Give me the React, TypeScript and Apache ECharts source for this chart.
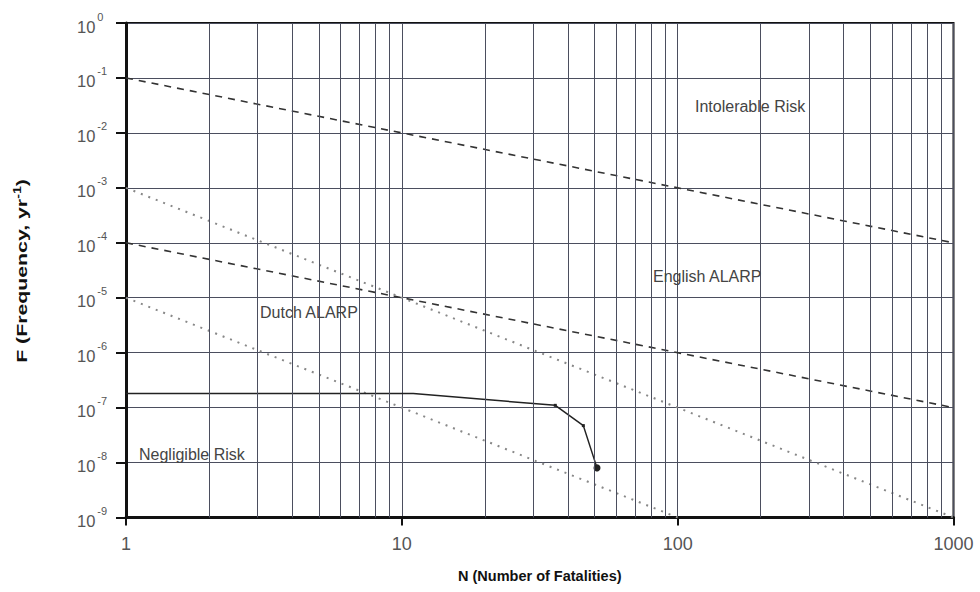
import React, { useEffect, useRef } from "react";
import * as echarts from "echarts";

// ---- data ----
const nEnds = [1, 1000];
const intolerableLimit = [1e-1, 1e-4]; // English upper (dashed)
const englishLower = [1e-4, 1e-7]; // English lower (dashed)
const dutchUpper = [1e-3, 1e-9]; // Dutch upper (dotted)
const dutchLowerN = [1, 100];
const dutchLower = [1e-5, 1e-9]; // Dutch lower (dotted)
const fnN = [1, 11, 36, 45.5, 51];
const fnF = [1.8e-7, 1.8e-7, 1.1e-7, 4.7e-8, 8e-9];
const minorN = [2, 3, 4, 5, 6, 7, 8, 9, 20, 30, 40, 50, 60, 70, 80, 90, 200, 300, 400, 500, 600, 700, 800, 900];
const xTickLabels = ["1", "10", "100", "1000"];
const annotations = [
  { text: "Intolerable Risk", x: 695, y: 106 },
  { text: "English ALARP", x: 653, y: 276 },
  { text: "Dutch ALARP", x: 260, y: 312 },
  { text: "Negligible Risk", x: 139, y: 454 },
];

const FONT = "'Liberation Sans', Arial, sans-serif";
const GRID = "#4b4e5e";

const zip = (xs: number[], ys: number[]) => xs.map((x, i) => [x, ys[i]]);

export default function App() {
  const ref = useRef<HTMLDivElement>(null);
  useEffect(() => {
    if (!ref.current) return;
    const chart = echarts.init(ref.current, null, { renderer: "svg" });
    chart.setOption({
      animation: false,
      backgroundColor: "#ffffff",
      textStyle: { fontFamily: FONT },
      grid: {
        left: 126,
        top: 23,
        right: 26.5,
        bottom: 74.5,
        show: true,
        borderColor: "#111",
        borderWidth: 2,
        backgroundColor: "transparent",
      },
      xAxis: {
        type: "log",
        logBase: 10,
        min: 1,
        max: 1000,
        name: "N (Number of Fatalities)",
        nameLocation: "middle",
        nameGap: 51,
        nameTextStyle: { fontFamily: FONT, fontSize: 14.5, fontWeight: "bold", color: "#111" },
        axisLine: { show: true, lineStyle: { color: "#111", width: 3 } },
        axisTick: { show: true, length: 8, lineStyle: { color: "#111", width: 2 } },
        axisLabel: {
          margin: 17,
          fontSize: 18,
          color: "#555",
          fontFamily: FONT,
          formatter: (v: number) => {
            const e = Math.round(Math.log10(v));
            return xTickLabels[e] ?? String(Math.round(v));
          },
        },
        splitLine: { show: true, lineStyle: { color: GRID, width: 1 } },
      },
      yAxis: {
        type: "log",
        logBase: 10,
        min: 1e-9,
        max: 1,
        axisLine: { show: true, lineStyle: { color: "#111", width: 3 } },
        axisTick: { show: true, length: 10, lineStyle: { color: "#111", width: 2 } },
        axisLabel: {
          margin: 49,
          align: "left",
          formatter: (v: number) => `{b|10}{s|${Math.round(Math.log10(v))}}`,
          rich: {
            b: { fontSize: 16.5, color: "#555", fontFamily: FONT, lineHeight: 24, verticalAlign: "bottom" },
            s: { fontSize: 11, color: "#555", fontFamily: FONT, verticalAlign: "top", lineHeight: 11, padding: [0, 0, 0, 2] },
          },
        },
        splitLine: { show: true, lineStyle: { color: GRID, width: 1 } },
      },
      graphic: [
        {
          type: "text",
          x: 22,
          y: 271,
          rotation: Math.PI / 2,
          scaleX: 1.42,
          z: 100,
          style: {
            text: "{a|F (Frequency, yr}{s|-1}{a|)}",
            align: "center",
            verticalAlign: "middle",
            rich: {
              a: { fontSize: 15, fontWeight: "bold", fontFamily: FONT, fill: "#111", lineHeight: 18 },
              s: { fontSize: 10, fontWeight: "bold", fontFamily: FONT, fill: "#111", verticalAlign: "top", lineHeight: 10 },
            },
          },
        },
        ...annotations.map((a) => ({
          type: "text",
          x: a.x,
          y: a.y,
          z: 100,
          style: {
            text: a.text,
            fontFamily: FONT,
            fontSize: 16,
            fill: "#444",
            align: "left",
            verticalAlign: "middle",
          },
        })),
      ],
      series: [
        {
          type: "line",
          name: "grid",
          z: 1,
          data: [[1, 1e-9]],
          symbol: "none",
          lineStyle: { opacity: 0 },
          silent: true,
          markLine: {
            silent: true,
            symbol: ["none", "none"],
            label: { show: false },
            lineStyle: { color: GRID, width: 1, type: "solid" },
            emphasis: { disabled: true },
            data: minorN.map((v) => ({ xAxis: v })),
          },
        },
        {
          type: "line",
          name: "Intolerable limit",
          z: 3,
          data: zip(nEnds, intolerableLimit),
          symbol: "none",
          lineStyle: { color: "#333", width: 1.6, type: [7, 6] },
        },
        {
          type: "line",
          name: "English lower",
          z: 3,
          data: zip(nEnds, englishLower),
          symbol: "none",
          lineStyle: { color: "#333", width: 1.6, type: [7, 6] },
        },
        {
          type: "line",
          name: "Dutch upper",
          z: 3,
          data: zip(nEnds, dutchUpper),
          symbol: "none",
          lineStyle: { color: "#888", width: 2, type: [2, 6] },
        },
        {
          type: "line",
          name: "Dutch lower",
          z: 3,
          data: zip(dutchLowerN, dutchLower),
          symbol: "none",
          lineStyle: { color: "#888", width: 2, type: [2, 6] },
        },
        {
          type: "line",
          name: "FN curve",
          z: 4,
          data: zip(fnN, fnF).map((p, i) => ({
            value: p,
            symbol: i === fnN.length - 1 ? "circle" : i >= 2 ? "rect" : "none",
            symbolSize: i === fnN.length - 1 ? 7 : 3,
          })),
          showSymbol: true,
          itemStyle: { color: "#222" },
          lineStyle: { color: "#222", width: 1.5 },
        },
      ],
    });
    return () => chart.dispose();
  }, []);
  return (
    <div
      ref={ref}
      style={{ position: "fixed", left: 0, top: 0, width: 980, height: 592 }}
    />
  );
}
